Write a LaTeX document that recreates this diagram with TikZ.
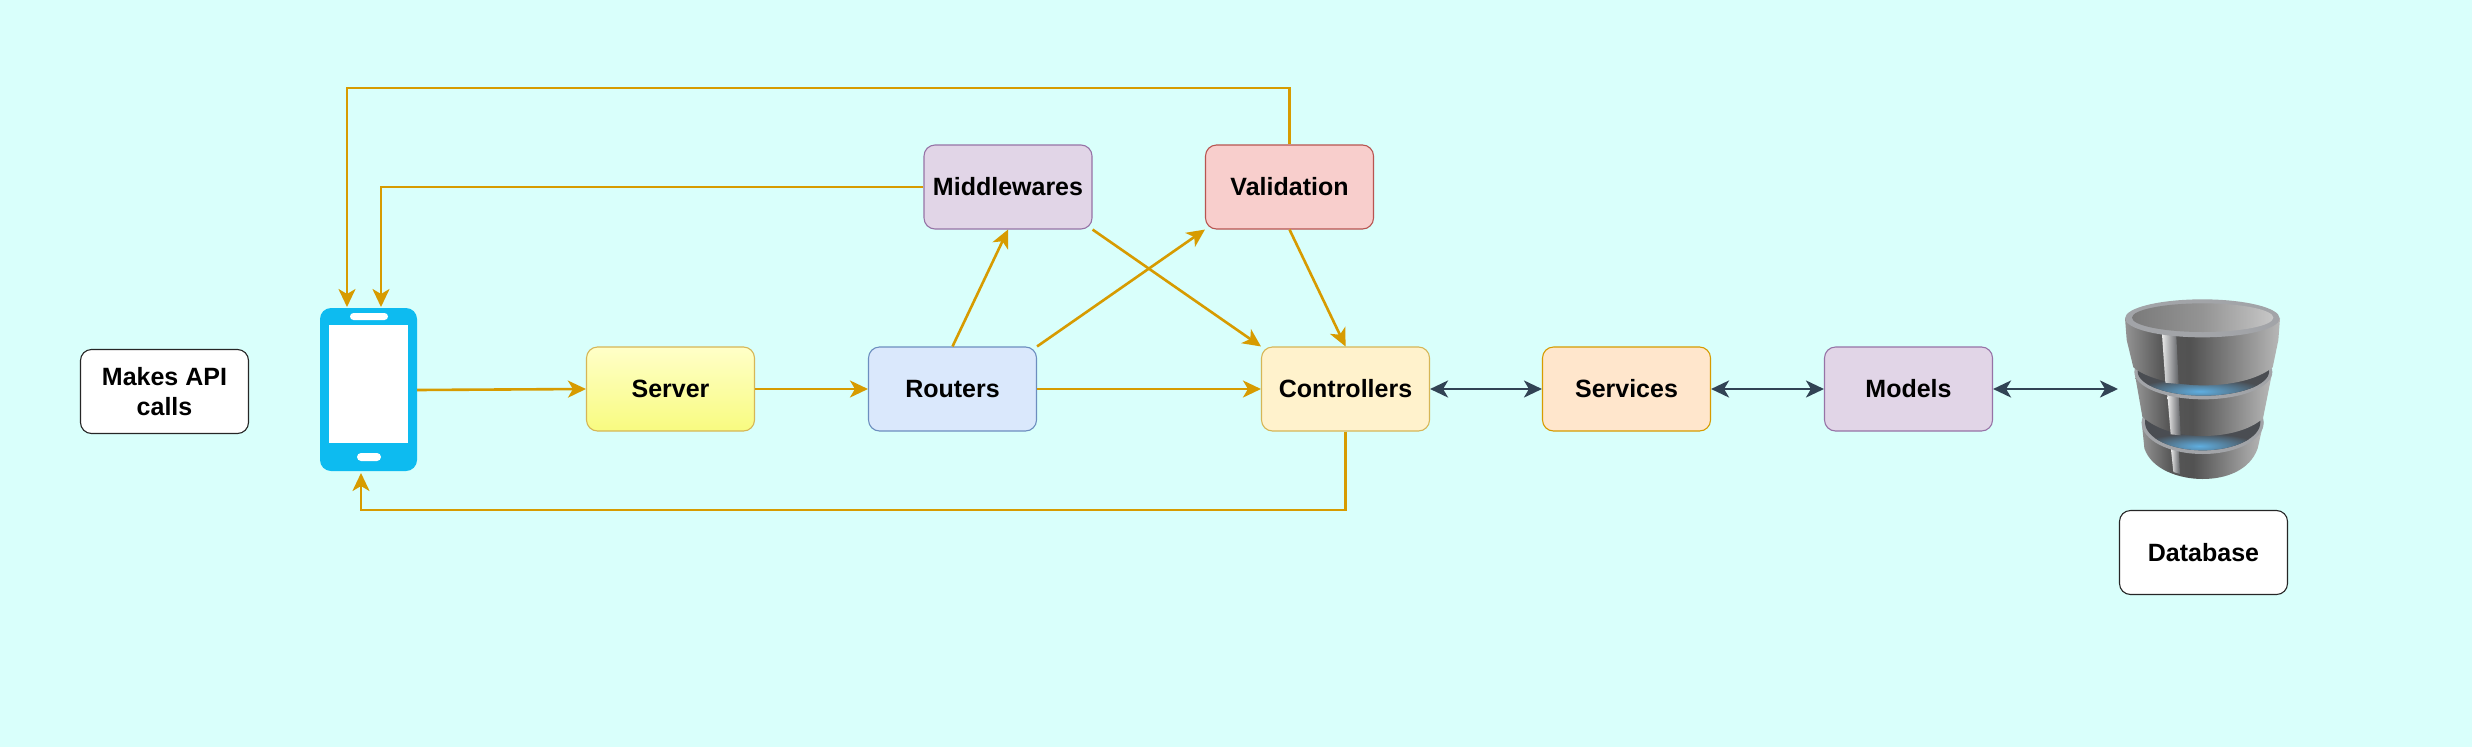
\documentclass[tikz,border=0pt]{standalone}
\usepackage{fontspec}
\setmainfont{Liberation Sans}
\usetikzlibrary{arrows.meta,calc}
\definecolor{bgc}{HTML}{D9FFFB}
\definecolor{org}{HTML}{D79B00}
\definecolor{slate}{HTML}{314354}
\definecolor{phoneblue}{HTML}{0DBBF0}
\definecolor{dbrimc}{HTML}{A2A4A8}
\definecolor{dbdark}{HTML}{4A4D52}
\definecolor{dbglow}{HTML}{5FAEE0}
\definecolor{dbstrip}{HTML}{5F6165}
\definecolor{ylstroke}{HTML}{D6B656}
\definecolor{srvtop}{HTML}{FFFFC8}
\definecolor{srvbot}{HTML}{F8FB80}
\definecolor{blstroke}{HTML}{6C8EBF}
\definecolor{blfill}{HTML}{DAE8FC}
\definecolor{pustroke}{HTML}{9673A6}
\definecolor{pufill}{HTML}{E1D5E7}
\definecolor{rdstroke}{HTML}{B85450}
\definecolor{rdfill}{HTML}{F8CECC}
\definecolor{ylfill}{HTML}{FFF2CC}
\definecolor{orfill}{HTML}{FFE6CC}
\pgfdeclarehorizontalshading{dbbody}{100bp}{color(0bp)=(black!42); color(25bp)=(black!42); color(37bp)=(black!66); color(46bp)=(black!68); color(75bp)=(black!28); color(100bp)=(black!28)}
\pgfdeclarehorizontalshading{dbtopin}{100bp}{color(0bp)=(black!52); color(25bp)=(black!52); color(50bp)=(black!42); color(75bp)=(black!22); color(100bp)=(black!22)}
\tikzset{
  box/.style={draw,line width=1.1pt,rounded corners=11pt,minimum width=168pt,minimum height=84pt,inner sep=0pt,align=center,font=\fontsize{25}{30}\selectfont\bfseries,text=black},
  whitebox/.style={box,fill=white,draw=black!85},
  flow/.style={draw=org,line width=2.6pt,-{Stealth[length=18pt,width=17pt,inset=5pt]}},
  both/.style={draw=slate,line width=2.6pt,{Stealth[length=18pt,width=17pt,inset=5pt]}-{Stealth[length=18pt,width=17pt,inset=5pt]}},
  tierbody/.style={shading=dbbody,shading angle=0},
  strip/.style={left color=white!92!black,right color=dbstrip},
}
\newcommand{\dbrimdraw}[4]{% cx cy rx ry
  \fill[dbrimc] (#1,#2) ellipse [x radius=#3,y radius=#4];
  \begin{scope}
    \clip (#1,#2-1) ellipse [x radius=#3-10,y radius=#4-10];
    \fill[dbdark] (#1-250,#2-120) rectangle (#1+250,#2+120);
    \shade[inner color=dbglow,outer color=dbdark] (#1-10,#2+#4-24) ellipse [x radius=#3-5,y radius=38];
  \end{scope}
}
\begin{document}
\begin{tikzpicture}[x=1pt,y=-1pt]
\path[use as bounding box,fill=bgc] (0,0) rectangle (2472,747);
% phone
\node[fill=phoneblue,rounded corners=11pt,minimum width=97pt,minimum height=163pt,inner sep=0pt] (phone) at (368.5,389.5) {};
\fill[white] (329,325) rectangle (408,443);
\fill[white,rounded corners=3.5pt] (350,313) rectangle (388,320);
\fill[white,rounded corners=4pt] (357,453) rectangle (381,461);
\coordinate (pa) at (347,307);
\coordinate (pb) at (381,307);
\coordinate (pc) at (361,473);
\coordinate (pd) at (417,390);
\coordinate (tl) at (347,88);
\coordinate (bl) at (361,510);
\coordinate (dbin) at (2118,389);
% boxes
\node[whitebox] (api) at (164.5,391.5) {Makes API\\calls};
\node[box,draw=ylstroke,top color=srvtop,bottom color=srvbot] (server) at (670.5,389) {Server};
\node[box,draw=blstroke,fill=blfill] (routers) at (952.5,389) {Routers};
\node[box,draw=pustroke,fill=pufill] (mid) at (1008,187) {Middlewares};
\node[box,draw=rdstroke,fill=rdfill] (val) at (1289.5,187) {Validation};
\node[box,draw=ylstroke,fill=ylfill] (ctrl) at (1345.5,389) {Controllers};
\node[box,draw=org,fill=orfill] (serv) at (1626.5,389) {Services};
\node[box,draw=pustroke,fill=pufill] (models) at (1908.5,389) {Models};
\node[whitebox] (dbbox) at (2203.5,552.5) {Database};
% connectors
\draw[flow] (pd) -- (server.west);
\draw[flow] (server.east) -- (routers.west);
\draw[flow] (routers.east) -- (ctrl.west);
\draw[flow] (routers.north) -- (mid.south);
\draw[flow] (routers.north east) -- (val.south west);
\draw[flow] (mid.south east) -- (ctrl.north west);
\draw[flow] (val.south) -- (ctrl.north);
\draw[flow] (mid.west) -| (pb);
\draw[flow] (val.north) |- (tl) -- (pa);
\draw[flow] (ctrl.south) |- (bl) -- (pc);
\draw[both] (ctrl.east) -- (serv.west);
\draw[both] (serv.east) -- (models.west);
\draw[both] (models.east) -- (dbin);
% database
\begin{scope}[shift={(2080,280)},x=1pt/3,y=-1pt/3]
  % tier 3
  \shade[tierbody] (185,425) -- (193,505) .. controls (215,570) and (300,597) .. (368,597) .. controls (440,597) and (510,570) .. (533,505) -- (551,425) -- cycle;
  \shade[strip] (272,500) -- (296,500) -- (300,582) -- (280,576) -- cycle;
  \dbrimdraw{368}{428}{183}{94}
  % tier 2
  \shade[tierbody] (165,285) -- (187,410) .. controls (230,450) and (300,468) .. (368,468) .. controls (440,468) and (510,450) .. (549,415) -- (575,285) -- cycle;
  \shade[strip] (262,345) -- (296,345) -- (302,466) -- (272,463) -- cycle;
  \dbrimdraw{370}{276}{207}{82}
  % tier 1
  \shade[tierbody] (135,115) -- (140,180) -- (160,262) .. controls (205,300) and (300,316) .. (370,316) .. controls (450,316) and (530,300) .. (578,262) -- (595,180) -- (600,115) -- cycle;
  \shade[strip] (245,150) -- (288,150) -- (296,312) -- (256,308) -- cycle;
  % top rim
  \fill[dbrimc] (367,115) ellipse [x radius=232,y radius=57];
  \shade[shading=dbtopin] (368,113) ellipse [x radius=212,y radius=43];
\end{scope}
\end{tikzpicture}
\end{document}
